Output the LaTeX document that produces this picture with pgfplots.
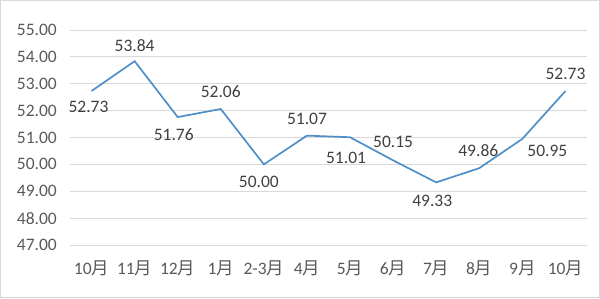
\documentclass[border=0pt]{standalone}
\usepackage{pgfplots}
\pgfplotsset{compat=1.18}
\usepackage{fontspec}
\setmainfont{Carlito}
\newfontfamily\cjk{Noto Sans CJK SC}
\definecolor{linec}{HTML}{4F8FC8}
\definecolor{gridc}{HTML}{D9D9D9}
\definecolor{framec}{HTML}{D9D9D9}
\definecolor{tickc}{HTML}{595959}
\definecolor{labelc}{HTML}{404040}
\begin{document}
\begin{tikzpicture}[x=1pt,y=1pt]
\useasboundingbox (0,0) rectangle (600,298);
\draw[framec, line width=1pt] (0.5,0.5) rectangle (599.5,297.5);
\begin{axis}[
  at={(70pt,53pt)}, anchor=south west,
  scale only axis, width=517pt, height=215pt,
  xmin=-0.5, xmax=11.5, ymin=47, ymax=55,
  ytick={47,48,...,55},
  xtick={0,...,11},
  xticklabels={10{\cjk 月},11{\cjk 月},12{\cjk 月},1{\cjk 月},2-3{\cjk 月},4{\cjk 月},5{\cjk 月},6{\cjk 月},7{\cjk 月},8{\cjk 月},9{\cjk 月},10{\cjk 月}},
  ymajorgrids, grid style={gridc, line width=1pt},
  axis line style={draw=none},
  major tick length=0pt,
  /pgf/number format/assume math mode=true,
  yticklabel style={font=\fontsize{17.5}{20}\selectfont, text=tickc, anchor=east, inner sep=0pt, xshift=-13pt,
    /pgf/number format/.cd, fixed, fixed zerofill, precision=2},
  xticklabel style={font=\fontsize{17.5}{20}\selectfont, text=tickc, anchor=center, inner sep=0pt, yshift=-23pt},
  clip=false,
]
\addplot[linec, line width=1.7pt, mark=none,
  point meta=y,
  nodes near coords,
  visualization depends on={\thisrow{dx} \as \dx},
  visualization depends on={\thisrow{dy} \as \dy},
  every node near coord/.append style={anchor=center, inner sep=0pt, xshift=\dx pt, yshift=\dy pt,
    font=\fontsize{17.5}{20}\selectfont, text=labelc,
    /pgf/number format/.cd, fixed, fixed zerofill, precision=2, assume math mode=true},
] table {
x y dx dy
0 52.73 -3 -16
1 53.84 0 16
2 51.76 -4 -17.5
3 52.06 0 17
4 50.00 -5 -18
5 51.07 0 17
6 51.01 -4 -21
7 50.15 0 18
8 49.33 -4 -19
9 49.86 -1 18
10 50.95 25 -12
11 52.73 0 17
};
\end{axis}
\end{tikzpicture}
\end{document}
